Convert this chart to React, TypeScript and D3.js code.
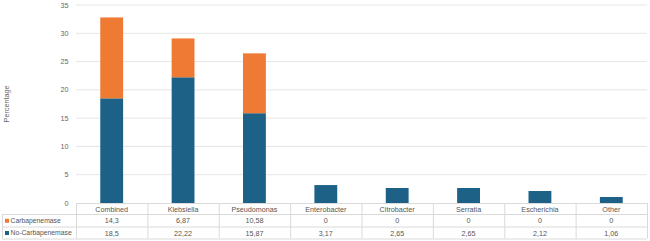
import React from "react";
import * as d3 from "d3";

const categories = ["Combined", "Klebsiella", "Pseudomonas", "Enterobacter", "Citrobacter", "Serratia", "Escherichia", "Other"];
const carbapenemase = [14.3, 6.87, 10.58, 0, 0, 0, 0, 0];
const noCarbapenemase = [18.5, 22.22, 15.87, 3.17, 2.65, 2.65, 2.12, 1.06];
const carbLabels = ["14,3", "6,87", "10,58", "0", "0", "0", "0", "0"];
const noCarbLabels = ["18,5", "22,22", "15,87", "3,17", "2,65", "2,65", "2,12", "1,06"];
const yTicks = [0, 5, 10, 15, 20, 25, 30, 35];

const W = 650, H = 241;
const left = 76, right = 647, top = 5, bottom = 203;
const ORANGE = "#EE7A33";
const BLUE = "#1D6186";
const FONT = "'Liberation Sans', Arial, sans-serif";
const FS = 7.2;

export default function App() {
  const x = d3.scaleBand<string>().domain(categories).range([left, right]).paddingInner(0).paddingOuter(0);
  const y = d3.scaleLinear().domain([0, 35]).range([bottom, top]);
  const bw = x.bandwidth() * 0.32;
  const rows = [bottom, 214, 226.5, 238.5];
  const tableLeft = 2;
  return (
    <div style={{ position: "absolute", left: 0, top: 0 }}>
      <svg width={W} height={H} style={{ display: "block", fontFamily: FONT }}>
        <rect width={W} height={H} fill="#fff" />
        {yTicks.map((t) => (
          <g key={t}>
            {t > 0 && <line x1={left} x2={right} y1={y(t)} y2={y(t)} stroke="#E6E6E6" strokeWidth={1} />}
            <text x={68.5} y={y(t)} dy="0.35em" textAnchor="end" fontSize={FS} fill="#666">{t}</text>
          </g>
        ))}
        <text transform={`translate(6,${(top + bottom) / 2}) rotate(-90)`} textAnchor="middle" dy="0.35em" fontSize={FS} fill="#666">Percentage</text>
        {categories.map((c, i) => {
          const cx = (x(c) as number) + x.bandwidth() / 2;
          const n = noCarbapenemase[i];
          const cb = carbapenemase[i];
          return (
            <g key={c}>
              <rect x={cx - bw / 2} y={y(n)} width={bw} height={y(0) - y(n)} fill={BLUE} />
              {cb > 0 && <rect x={cx - bw / 2} y={y(n + cb)} width={bw} height={y(n) - y(n + cb)} fill={ORANGE} />}
            </g>
          );
        })}
        {/* table */}
        <g stroke="#DADADA" strokeWidth={1} fill="none">
          <line x1={left} x2={right} y1={rows[0] + 0.5} y2={rows[0] + 0.5} />
          <line x1={tableLeft} x2={right} y1={rows[1] + 0.5} y2={rows[1] + 0.5} />
          <line x1={tableLeft} x2={right} y1={rows[2] + 0.5} y2={rows[2] + 0.5} />
          <line x1={tableLeft} x2={right} y1={rows[3] + 0.5} y2={rows[3] + 0.5} />
          <line x1={tableLeft + 0.5} x2={tableLeft + 0.5} y1={rows[1]} y2={rows[3]} />
          {categories.map((c) => (
            <line key={c} x1={(x(c) as number) + 0.5} x2={(x(c) as number) + 0.5} y1={rows[0]} y2={rows[3]} />
          ))}
          <line x1={right + 0.5} x2={right + 0.5} y1={rows[0]} y2={rows[3]} />
        </g>
        {categories.map((c, i) => {
          const cx = (x(c) as number) + x.bandwidth() / 2;
          return (
            <g key={c} fontSize={FS} fill="#555" textAnchor="middle">
              <text x={cx} y={(rows[0] + rows[1]) / 2 + 0.5} dy="0.35em">{c}</text>
              <text x={cx} y={(rows[1] + rows[2]) / 2 + 0.5} dy="0.35em">{carbLabels[i]}</text>
              <text x={cx} y={(rows[2] + rows[3]) / 2 + 0.5} dy="0.35em">{noCarbLabels[i]}</text>
            </g>
          );
        })}
        <rect x={5} y={(rows[1] + rows[2]) / 2 - 1.5} width={4} height={4} fill={ORANGE} />
        <text x={10.5} y={(rows[1] + rows[2]) / 2 + 0.5} dy="0.35em" fontSize={6.8} fill="#555">Carbapenemase</text>
        <rect x={5} y={(rows[2] + rows[3]) / 2 - 1.5} width={4} height={4} fill={BLUE} />
        <text x={10.5} y={(rows[2] + rows[3]) / 2 + 0.5} dy="0.35em" fontSize={6.8} fill="#555">No-Carbapenemase</text>
      </svg>
    </div>
  );
}
